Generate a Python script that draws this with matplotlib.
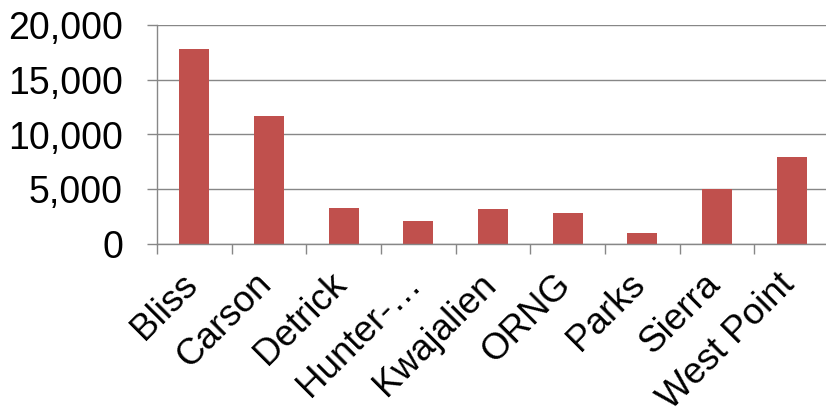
import numpy as np
import matplotlib.pyplot as plt
from matplotlib.ticker import FuncFormatter
import matplotlib.transforms as mtransforms

sites = ['Bliss', 'Carson', 'Detrick', 'Hunter-\u2026', 'Kwajalien', 'ORNG',
         'Parks', 'Sierra', 'West Point']
values = [17800, 11650, 3300, 2100, 3200, 2800, 1000, 5000, 7950]
yticks = [0, 5000, 10000, 15000, 20000]

plt.rcParams['font.family'] = ['Liberation Sans', 'DejaVu Sans']

fig = plt.figure(figsize=(8.26, 4.18), dpi=100)
ax = fig.add_axes([157/826, 174/418, 672/826, 219/418])

x = np.arange(len(sites))
ax.bar(x, values, width=0.4, color='#C0504D', zorder=2)

ax.set_xlim(-0.5, len(sites) - 0.5)
ax.set_ylim(0, 20000)
ax.set_yticks(yticks)
ax.yaxis.set_major_formatter(FuncFormatter(lambda v, p: '{:,.0f}'.format(v)))
ax.grid(axis='y', color='#878787', linewidth=1.0, zorder=0)
ax.set_axisbelow(True)

# ticks at category boundaries, labels at centers
ax.set_xticks(np.arange(len(sites) + 1) - 0.5)
ax.set_xticklabels([])
ax.tick_params(axis='x', length=7.5, width=1.0, color='#878787')
ax.tick_params(axis='y', length=7.5, width=1.0, color='#878787',
               labelsize=27, pad=17)

for s in ['top', 'right']:
    ax.spines[s].set_visible(False)
for s in ['left', 'bottom']:
    ax.spines[s].set_color('#878787')
    ax.spines[s].set_linewidth(1.0)

off = mtransforms.ScaledTranslation(3/72, -30/72, fig.dpi_scale_trans)
trans = ax.get_xaxis_transform() + off
for i, name in enumerate(sites):
    ax.text(i, 0, name, transform=trans, rotation=45, rotation_mode='anchor',
            ha='right', va='baseline', fontsize=26.5)

fig.savefig('out.png', dpi=100)
